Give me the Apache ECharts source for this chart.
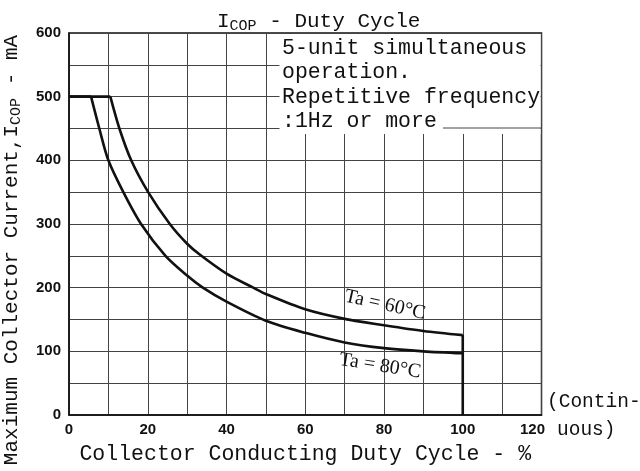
<!DOCTYPE html>
<html>
<head>
<meta charset="utf-8">
<script src="https://cdn.jsdelivr.net/npm/echarts@6/dist/echarts.min.js"></script>
<style>html,body{margin:0;padding:0;background:#fff}#c{width:640px;height:471px}</style>
</head>
<body>
<div id="c"></div>
<script>
// Data
const duty60 = [0, 10.5, 12.8, 15.8, 20.1, 25.6, 30, 33.2, 40, 46.8, 50, 60, 70, 80, 90, 100, 100];
const current60 = [500, 500, 450, 400, 350, 300, 269, 252, 222, 200, 190, 166, 151, 141, 132, 125.5, 0];
const duty80 = [0, 5.6, 7.7, 10, 13.8, 18.3, 24.5, 30, 34, 40, 50, 60, 70, 80, 90, 100];
const current80 = [500, 500, 450, 400, 350, 300, 250, 219, 200, 178, 148, 129, 114, 105, 100, 97];
const xTicks = [0, 20, 40, 60, 80, 100, 120];
const yTicks = [0, 100, 200, 300, 400, 500, 600];
const seriesNames = ['Ta=60°C', 'Ta=80°C'];
const noteLines = ['5-unit simultaneous', 'operation.', 'Repetitive frequency', ':1Hz or more'];

const mono = '"Liberation Mono", "DejaVu Sans Mono", monospace';
const narrow = '"Liberation Sans Narrow", "Liberation Sans", sans-serif';
const serif = '"Liberation Serif", "DejaVu Serif", serif';

const zip = (xs, ys) => xs.map((x, i) => [x, ys[i]]);
const pts60 = zip(duty60, current60);
const pts80 = zip(duty80, current80);
const n60 = pts60.length;

const lineStyle = {color: '#111', width: 2.6};
const part = (name, data, smooth) => ({
  name, type: 'line', data, showSymbol: false, smooth,
  lineStyle, z: 5, silent: true
});

const chart = echarts.init(document.getElementById('c'), null, {renderer: 'canvas'});
chart.setOption({
  animation: false,
  backgroundColor: '#fff',
  title: {
    text: '{i|I}{s|COP}{i| - Duty Cycle}',
    left: 212,
    top: 4,
    textStyle: {
      fontWeight: 'normal',
      rich: {
        i: {fontFamily: mono, fontSize: 21, fontWeight: 'normal', color: '#111', lineHeight: 24},
        s: {fontFamily: mono, fontSize: 15, fontWeight: 'normal', color: '#111', padding: [10, 0, 0, 0], lineHeight: 24}
      }
    }
  },
  grid: {left: 69, right: 98.5, top: 33, bottom: 56, outerBoundsMode: 'none', containLabel: false,
         show: true, borderColor: '#111', borderWidth: 1.5, backgroundColor: 'transparent'},
  xAxis: {
    type: 'value', min: 0, max: 120, interval: 10,
    name: 'Collector Conducting Duty Cycle - %',
    nameLocation: 'middle', nameGap: 28,
    nameTextStyle: {fontFamily: mono, fontSize: 21.5, color: '#111'},
    axisLine: {show: true, lineStyle: {color: '#111', width: 1.5}},
    axisTick: {show: false},
    splitLine: {show: true, lineStyle: {color: '#444', width: 1}},
    axisLabel: {
      margin: 7,
      fontFamily: narrow, fontWeight: 'bold', fontSize: 15, color: '#111',
      formatter: v => xTicks.includes(v) ? (v === 120 ? '{r|' + v + '}' : String(v)) : '',
      rich: {r: {fontFamily: narrow, fontWeight: 'bold', fontSize: 15, color: '#111', padding: [0, 18, 0, 0]}}
    }
  },
  yAxis: {
    type: 'value', min: 0, max: 600, interval: 50,
    name: '{t|Maximum Collector Current,I}{s|COP}{t| - mA}',
    nameLocation: 'middle', nameGap: 46, nameRotate: 90,
    nameTextStyle: {
      padding: [0, 52, 0, 0],
      rich: {
        t: {fontFamily: mono, fontSize: 21, color: '#111', lineHeight: 24},
        s: {fontFamily: mono, fontSize: 15, color: '#111', padding: [10, 0, 0, 0], lineHeight: 24}
      }
    },
    axisLine: {show: true, lineStyle: {color: '#111', width: 1.5}},
    axisTick: {show: false},
    splitLine: {show: true, lineStyle: {color: '#444', width: 1}},
    axisLabel: {
      margin: 8,
      fontFamily: narrow, fontWeight: 'bold', fontSize: 15, color: '#111',
      formatter: v => yTicks.includes(v) ? String(v) : ''
    }
  },
  series: [
    part(seriesNames[0], pts60.slice(0, 2), false),
    part(seriesNames[0], pts60.slice(1, n60 - 1), 0.3),
    part(seriesNames[0], pts60.slice(n60 - 2), false),
    part(seriesNames[1], pts80.slice(0, 2), false),
    part(seriesNames[1], pts80.slice(1), 0.3)
  ],
  graphic: [
    {type: 'rect', z: 50, shape: {x: 279.5, y: 34, width: 261, height: 100}, style: {fill: '#fff'}},
    {type: 'line', z: 51, shape: {x1: 443, y1: 128, x2: 541, y2: 128}, style: {stroke: '#444', lineWidth: 1}},
    {type: 'text', z: 52, x: 282, y: 36,
     style: {text: noteLines.join('\n'), fontFamily: mono, fontSize: 21.5, lineHeight: 24.5, fill: '#111', textVerticalAlign: 'top'}},
    {type: 'text', z: 52, x: 547, y: 402,
     style: {text: '(Contin-', fontFamily: mono, fontSize: 19.5, fill: '#111', textVerticalAlign: 'middle'}},
    {type: 'text', z: 52, x: 557, y: 430,
     style: {text: 'uous)', fontFamily: mono, fontSize: 19.5, fill: '#111', textVerticalAlign: 'middle'}},
    {type: 'text', z: 52, x: 385, y: 305, rotation: -0.22,
     style: {text: 'Ta = 60°C', fontFamily: serif, fontSize: 20, fill: '#111', textAlign: 'center', textVerticalAlign: 'middle'}},
    {type: 'text', z: 52, x: 380, y: 366, rotation: -0.16,
     style: {text: 'Ta = 80°C', fontFamily: serif, fontSize: 20, fill: '#111', textAlign: 'center', textVerticalAlign: 'middle'}}
  ]
});
</script>
</body>
</html>
